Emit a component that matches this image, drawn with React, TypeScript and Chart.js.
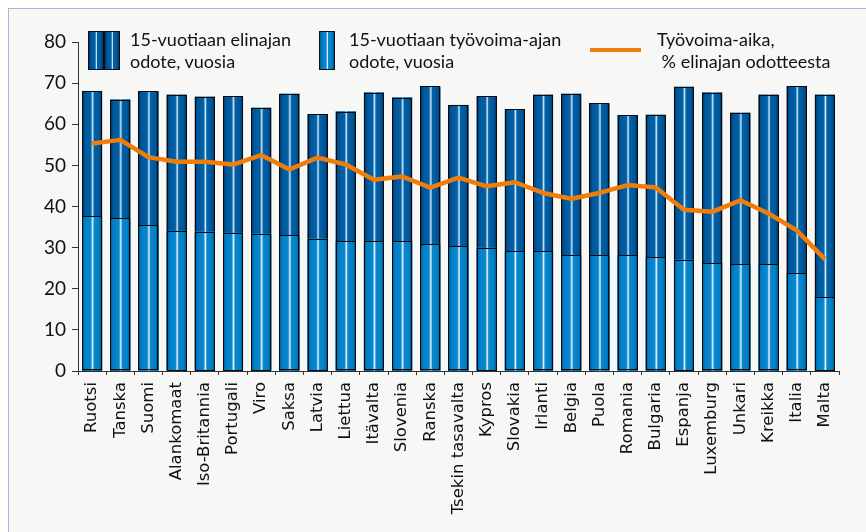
import React, { useEffect, useRef } from "react";
import { Chart, registerables } from "chart.js";

Chart.register(...registerables);

const categories = [
  "Ruotsi", "Tanska", "Suomi", "Alankomaat", "Iso-Britannia", "Portugali", "Viro",
  "Saksa", "Latvia", "Liettua", "Itävalta", "Slovenia", "Ranska", "Tsekin tasavalta",
  "Kypros", "Slovakia", "Irlanti", "Belgia", "Puola", "Romania", "Bulgaria",
  "Espanja", "Luxemburg", "Unkari", "Kreikka", "Italia", "Malta",
];

const lifeExpectancy = [
  68.1, 66.0, 68.0, 67.2, 66.7, 66.8, 64.0, 67.4, 62.5, 63.1, 67.7, 66.5, 69.2, 64.7,
  66.8, 63.7, 67.2, 67.4, 65.1, 62.2, 62.3, 69.1, 67.7, 62.8, 67.2, 69.3, 67.2,
];

const workingLife = [
  37.6, 37.2, 35.4, 34.1, 33.9, 33.6, 33.4, 33.0, 32.2, 31.6, 31.5, 31.5, 30.8, 30.3,
  30.0, 29.1, 29.1, 28.1, 28.1, 28.1, 27.7, 27.1, 26.2, 26.0, 25.9, 23.8, 18.0,
];

const workingShare = [
  55.3, 56.2, 52.0, 50.9, 50.9, 50.2, 52.5, 49.0, 51.9, 50.2, 46.5, 47.3, 44.6, 47.0,
  44.9, 45.9, 43.3, 41.9, 43.3, 45.2, 44.6, 39.2, 38.7, 41.5, 38.3, 34.2, 27.2,
];

const yTicks = [0, 10, 20, 30, 40, 50, 60, 70, 80];

const legendLabels = [
  ["15-vuotiaan elinajan", "odote, vuosia"],
  ["15-vuotiaan työvoima-ajan", "odote, vuosia"],
  ["Työvoima-aika,", " % elinajan odotteesta"],
];

const darkStops: [number, string][] = [
  [0, "#00305e"], [0.14, "#00559a"], [0.44, "#0062a8"], [0.53, "#d4e6f6"],
  [0.6, "#0062a8"], [0.86, "#00559a"], [1, "#002c58"],
];
const lightStops: [number, string][] = [
  [0, "#00548e"], [0.14, "#007fc6"], [0.44, "#0a88cf"], [0.53, "#eaf5fc"],
  [0.6, "#0a88cf"], [0.86, "#007fc4"], [1, "#004a80"],
];

const cssGrad = (stops: [number, string][]) =>
  "linear-gradient(to right, " + stops.map(([p, c]) => `${c} ${p * 100}%`).join(", ") + ")";

const barPainter = {
  id: "barPainter",
  afterDatasetDraw(chart: any, args: any) {
    const meta = args.meta;
    if (meta.type !== "bar") return;
    const stops = args.index === 0 ? darkStops : lightStops;
    const ctx = chart.ctx;
    ctx.save();
    meta.data.forEach((el: any) => {
      const p = el.getProps(["x", "y", "base", "width"], true);
      const left = p.x - p.width / 2;
      const top = Math.min(p.y, p.base);
      const h = Math.abs(p.base - p.y);
      const g = ctx.createLinearGradient(left, 0, left + p.width, 0);
      stops.forEach(([o, c]) => g.addColorStop(o, c));
      ctx.fillStyle = g;
      ctx.fillRect(left, top, p.width, h);
      ctx.strokeStyle = "#0a0a0a";
      ctx.lineWidth = 1;
      ctx.strokeRect(Math.round(left) + 0.5, Math.round(top) + 0.5, Math.round(p.width) - 1, Math.round(h) - 1);
    });
    ctx.restore();
  },
};

export default function App() {
  const ref = useRef<HTMLCanvasElement>(null);

  useEffect(() => {
    if (!ref.current) return;
    const chart = new Chart(ref.current, {
      type: "bar",
      data: {
        labels: categories,
        datasets: [
          {
            type: "bar",
            label: legendLabels[0].join(" "),
            data: lifeExpectancy,
            backgroundColor: "#005a9c",
            borderWidth: 0,
            order: 3,
            grouped: false,
            categoryPercentage: 1,
            barPercentage: 0.71,
          } as any,
          {
            type: "bar",
            label: legendLabels[1].join(" "),
            data: workingLife,
            backgroundColor: "#0a84cc",
            borderWidth: 0,
            order: 2,
            grouped: false,
            categoryPercentage: 1,
            barPercentage: 0.71,
          } as any,
          {
            type: "line",
            label: legendLabels[2].join(" "),
            data: workingShare,
            borderColor: "#f07d0a",
            borderWidth: 4.5,
            pointRadius: 0,
            tension: 0,
            order: 1,
            borderJoinStyle: "round",
          } as any,
        ],
      },
      options: {
        animation: false,
        responsive: false,
        devicePixelRatio: 1,
        layout: { padding: { left: 0, top: 42, right: 27, bottom: 0 } },
        plugins: {
          legend: { display: false },
          tooltip: { enabled: false },
        },
        scales: {
          x: {
            offset: true,
            grid: {
              display: true,
              drawOnChartArea: false,
              drawTicks: true,
              tickLength: 4,
              color: "#333",
              offset: true,
            },
            border: { display: true, color: "#333", width: 1 },
            ticks: {
              minRotation: 90,
              maxRotation: 90,
              autoSkip: false,
              padding: 7,
              color: "#111",
              font: { family: "'DejaVu Sans'", size: 16.5 },
            },
            afterFit: (s: any) => {
              s.height = 161;
            },
          },
          y: {
            min: 0,
            max: 80,
            afterBuildTicks: (s: any) => {
              s.ticks = yTicks.map((v) => ({ value: v }));
            },
            grid: {
              display: true,
              drawOnChartArea: false,
              drawTicks: true,
              tickLength: 6,
              color: "#333",
            },
            border: { display: true, color: "#333", width: 1 },
            ticks: {
              padding: 6,
              color: "#111",
              font: { family: "Lato", size: 19 },
            },
            afterFit: (s: any) => {
              s.width = 78;
            },
          },
        },
      },
      plugins: [barPainter],
    });
    return () => chart.destroy();
  }, []);

  const textStyle: React.CSSProperties = {
    position: "absolute",
    fontFamily: "Lato",
    fontSize: 18,
    lineHeight: "22px",
    color: "#111",
    whiteSpace: "pre",
  };

  return (
    <div style={{ position: "absolute", left: 0, top: 0, width: 866, height: 532, overflow: "hidden" }}>
      <div
        style={{
          position: "absolute",
          left: 8,
          top: 8,
          width: 870,
          height: 540,
          border: "1px solid #a5b3de",
          background: "#f7f7f5",
        }}
      />
      <canvas ref={ref} width={866} height={532} style={{ position: "absolute", left: 0, top: 0, width: 866, height: 532 }} />
      <div style={{ position: "absolute", left: 88, top: 31, width: 14, height: 37, border: "1px solid #111", background: cssGrad(darkStops) }} />
      <div style={{ position: "absolute", left: 104, top: 31, width: 14, height: 37, border: "1px solid #111", background: cssGrad(darkStops) }} />
      <div style={{ ...textStyle, left: 130, top: 28 }}>{legendLabels[0].join("\n")}</div>
      <div style={{ position: "absolute", left: 319, top: 31, width: 14, height: 37, border: "1px solid #111", background: cssGrad(lightStops) }} />
      <div style={{ ...textStyle, left: 349, top: 28 }}>{legendLabels[1].join("\n")}</div>
      <div style={{ position: "absolute", left: 590, top: 48, width: 51, height: 4, background: "#f07d0a" }} />
      <div style={{ ...textStyle, left: 657, top: 28 }}>{legendLabels[2].join("\n")}</div>
    </div>
  );
}
